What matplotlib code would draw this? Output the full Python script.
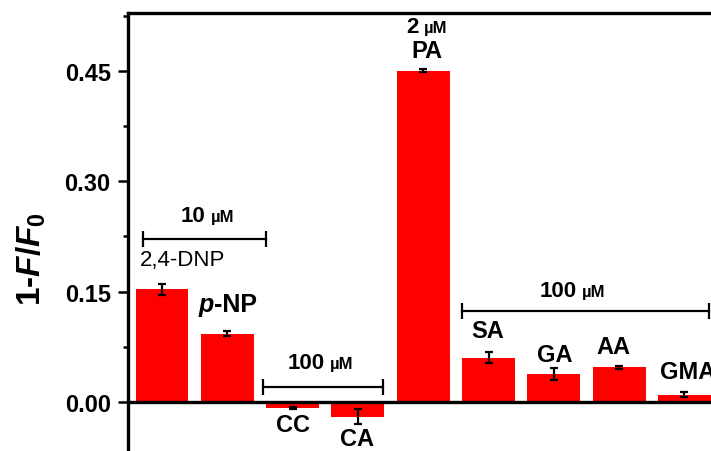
import matplotlib.pyplot as plt
from matplotlib.offsetbox import TextArea, HPacker, AnnotationBbox
from matplotlib.ticker import MultipleLocator

plt.rcParams['font.family'] = 'Liberation Sans'
plt.rcParams['mathtext.fontset'] = 'custom'
plt.rcParams['mathtext.rm'] = 'Liberation Sans:bold'
plt.rcParams['mathtext.it'] = 'Liberation Sans:italic:bold'

# data
names = ['2,4-DNP', 'p-NP', 'CC', 'CA', 'PA', 'SA', 'GA', 'AA', 'GMA']
values = [0.153, 0.093, -0.008, -0.020, 0.450, 0.060, 0.038, 0.047, 0.010]
errors = [0.008, 0.003, 0.001, 0.010, 0.002, 0.0075, 0.0085, 0.002, 0.0035]
positions = list(range(1, len(names) + 1))

# concentration groups: (number, first x, last x)
groups = [('10', 0.71, 2.59), ('100', 2.55, 4.38), ('100', 5.59, 9.38)]

fig = plt.figure(figsize=(7.11, 4.52), dpi=100)
# axes runs past the right and bottom edge (picture is cropped)
ax = fig.add_axes([128 / 711, -18 / 452, 592 / 711, 456 / 452])

ax.bar(positions, values, width=0.81, color='#ff0000', zorder=2)
ax.errorbar(positions, values, yerr=errors, fmt='none', ecolor='black',
            elinewidth=1.6, capsize=3, capthick=1.6, zorder=3)
ax.axhline(0, color='black', lw=2.4, zorder=4)

ax.set_xlim(0.479, 9.545)
ax.set_ylim(-0.0911, 0.5288)
ax.set_xticks([])
ax.yaxis.set_major_locator(MultipleLocator(0.15))
ax.yaxis.set_minor_locator(MultipleLocator(0.075))
ax.set_yticks([0.0, 0.15, 0.30, 0.45])
ax.set_yticklabels(['0.00', '0.15', '0.30', '0.45'])
ax.tick_params(axis='y', which='major', length=7.5, width=1.8, pad=5,
               labelsize=17)
ax.tick_params(axis='y', which='minor', length=3.5, width=1.8)
for lab in ax.get_yticklabels():
    lab.set_fontweight('bold')

for side in ['left', 'top']:
    ax.spines[side].set_linewidth(2.4)
ax.spines['right'].set_visible(False)
ax.spines['bottom'].set_visible(False)

ax.set_ylabel('1-$F$/$F_0$', fontsize=24, fontweight='bold')
ax.yaxis.set_label_coords(-0.135, 0.463)


def mixed_text(parts, x, y, sep=2):
    boxes = [TextArea(s, textprops=p) for s, p in parts]
    pack = HPacker(children=boxes, align='baseline', pad=0, sep=sep)
    ab = AnnotationBbox(pack, (x, y), xycoords='data', frameon=False,
                        box_alignment=(0.5, 0.5), pad=0)
    ax.add_artist(ab)


big = dict(fontsize=16, fontweight='bold', color='black')
small = dict(fontsize=12, fontweight='bold', color='black')

# group brackets with concentration
bracket_y = [0.2216, 0.0204, 0.124]
conc_xy = [(1.69, 0.253), (3.43, 0.054), (7.29, 0.152)]
for (num, x0, x1), by, (cx, cy) in zip(groups, bracket_y, conc_xy):
    ax.plot([x0, x1], [by, by], color='black', lw=1.6, marker='|',
            markersize=11, markeredgewidth=1.6, zorder=5)
    mixed_text([(num, big), ('\u00b5M', small)], cx, cy, sep=4)

# PA concentration
mixed_text([('2', big), ('\u00b5M', small)], 5.06, 0.51, sep=4)

# compound labels
label_xy = [(1.31, 0.194), (2.01, 0.133), (3.0, -0.030), (3.99, -0.050),
            (5.06, 0.478), (5.99, 0.097), (7.02, 0.065), (7.91, 0.076),
            (9.05, 0.042)]
for name, (lx, ly) in zip(names, label_xy):
    if name == '2,4-DNP':
        ax.text(lx, ly, name, fontsize=16, ha='center', va='center')
    elif name == 'p-NP':
        mixed_text([('p', dict(fontsize=18, style='italic',
                               fontweight='bold')),
                    ('-NP', dict(fontsize=18, fontweight='bold'))],
                   lx, ly, sep=0)
    else:
        ax.text(lx, ly, name, fontsize=17, fontweight='bold',
                ha='center', va='center')

fig.savefig('out.png', dpi=100)
